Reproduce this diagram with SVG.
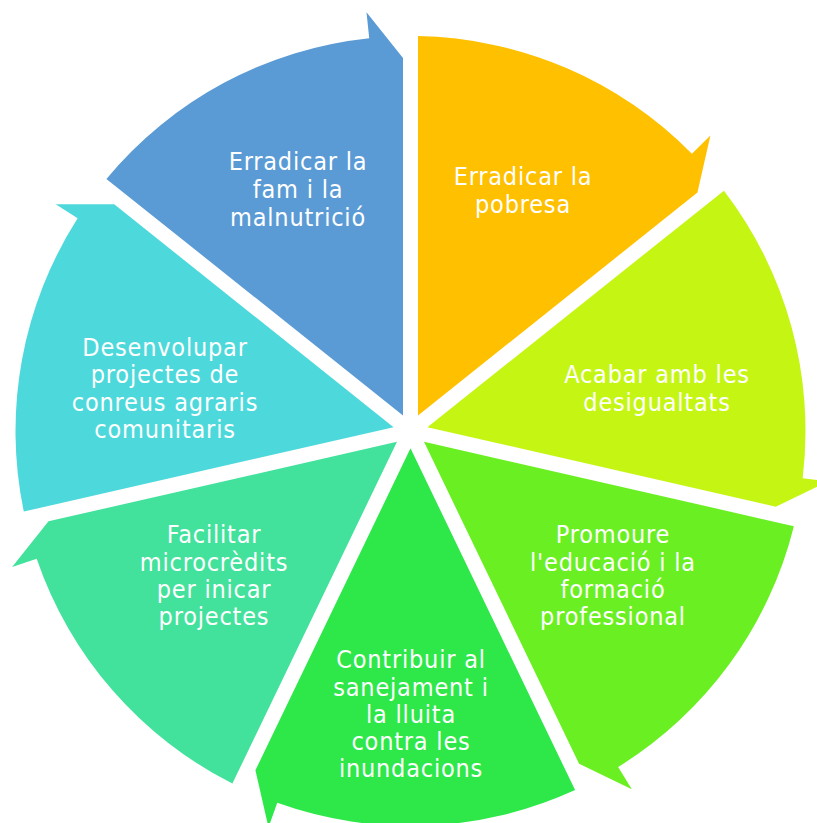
<svg xmlns="http://www.w3.org/2000/svg" width="817" height="823" viewBox="0 0 817 823">
<style>
.lbl{font-family:"DejaVu Sans Condensed","DejaVu Sans",sans-serif;font-stretch:condensed;font-size:25px;letter-spacing:0.8px;fill:#FFFFFF;text-anchor:middle}
</style>
<rect width="817" height="823" fill="#FFFFFF"/>
<g id="seg-blue">
<path d="M403,415.4 L106.4,178.9 A395,395 0 0 1 369.21,38.16 L366.49,12.31 L403,58 Z" fill="#5B9BD5"/>
<text class="lbl" x="298" y="170">Erradicar la</text>
<text class="lbl" x="298" y="198">fam i la</text>
<text class="lbl" x="298" y="226">malnutrició</text>
</g>
<g id="seg-orange">
<path d="M418,415.4 L418,36.07 A395,395 0 0 1 691.89,153.79 L710.41,135.54 L697.44,192.58 Z" fill="#FFC000"/>
<text class="lbl" x="523" y="185">Erradicar la</text>
<text class="lbl" x="523" y="213">pobresa</text>
</g>
<g id="seg-lime">
<path d="M427.4,427.2 L723.95,190.63 A395,395 0 0 1 802.68,478.16 L828.49,481.27 L775.82,506.69 Z" fill="#C5F613"/>
<text class="lbl" x="657" y="383">Acabar amb les</text>
<text class="lbl" x="657" y="411">desigualtats</text>
</g>
<g id="seg-green">
<path d="M424,441.8 L793.86,526.19 A395,395 0 0 1 618.14,767.02 L631.81,789.14 L579.1,763.81 Z" fill="#6AEF22"/>
<text class="lbl" x="613" y="543">Promoure</text>
<text class="lbl" x="613" y="571">l'educació i la</text>
<text class="lbl" x="613" y="598">formació</text>
<text class="lbl" x="613" y="625">professional</text>
</g>
<g id="seg-brightgreen">
<path d="M410.5,448.3 L575.09,790.07 A395,395 0 0 1 277.26,802.85 L268.49,827.33 L255.42,770.31 Z" fill="#2EE84A"/>
<text class="lbl" x="411" y="668">Contribuir al</text>
<text class="lbl" x="411" y="696">sanejament i</text>
<text class="lbl" x="411" y="723">la lluita</text>
<text class="lbl" x="411" y="750">contra les</text>
<text class="lbl" x="411" y="777">inundacions</text>
</g>
<g id="seg-teal">
<path d="M397,441.8 L232.39,783.57 A395,395 0 0 1 36.7,558.67 L12.09,567.07 L48.52,521.31 Z" fill="#43E29C"/>
<text class="lbl" x="214" y="543">Facilitar</text>
<text class="lbl" x="214" y="571">microcrèdits</text>
<text class="lbl" x="214" y="598">per inicar</text>
<text class="lbl" x="214" y="625">projectes</text>
</g>
<g id="seg-cyan">
<path d="M393.6,427.2 L23.8,511.57 A395,395 0 0 1 77.62,218.35 L55.71,204.35 L114.2,204.3 Z" fill="#4DD9DB"/>
<text class="lbl" x="165" y="356">Desenvolupar</text>
<text class="lbl" x="165" y="383">projectes de</text>
<text class="lbl" x="165" y="411">conreus agraris</text>
<text class="lbl" x="165" y="438">comunitaris</text>
</g>
<g id="connectors"></g>
</svg>
